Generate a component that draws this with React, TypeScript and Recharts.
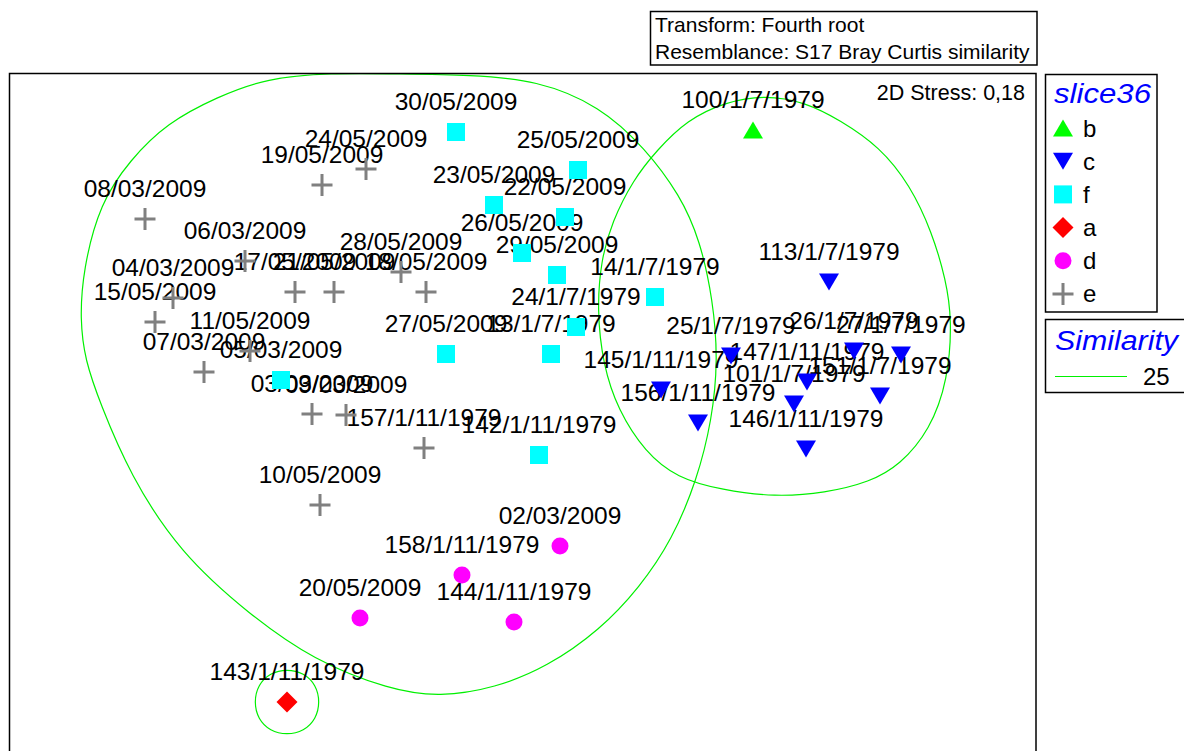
import React from "react";
import { ComposedChart, Scatter, Line, XAxis, YAxis } from "recharts";

type Pt = { name: string; x: number; y: number };
type Kind = "b" | "c" | "f" | "a" | "d" | "e";

// MDS coordinates, one array per slice36 group
const groupB: Pt[] = [{ name: "100/1/7/1979", x: 2.3, y: 2.97 }];

const groupC: Pt[] = [
  { name: "113/1/7/1979", x: 3.06, y: 1.45 },
  { name: "25/1/7/1979", x: 2.08, y: 0.71 },
  { name: "26/1/7/1979", x: 3.31, y: 0.76 },
  { name: "27/1/7/1979", x: 3.78, y: 0.72 },
  { name: "147/1/11/1979", x: 2.84, y: 0.45 },
  { name: "151/1/7/1979", x: 3.57, y: 0.31 },
  { name: "145/1/11/1979", x: 1.38, y: 0.37 },
  { name: "101/1/7/1979", x: 2.71, y: 0.23 },
  { name: "156/1/11/1979", x: 1.75, y: 0.04 },
  { name: "146/1/11/1979", x: 2.83, y: -0.22 },
];

const groupF: Pt[] = [
  { name: "30/05/2009", x: -0.67, y: 2.95 },
  { name: "25/05/2009", x: 0.55, y: 2.57 },
  { name: "23/05/2009", x: -0.29, y: 2.22 },
  { name: "22/05/2009", x: 0.42, y: 2.1 },
  { name: "26/05/2009", x: -0.01, y: 1.74 },
  { name: "29/05/2009", x: 0.34, y: 1.52 },
  { name: "14/1/7/1979", x: 1.32, y: 1.3 },
  { name: "24/1/7/1979", x: 0.53, y: 1.0 },
  { name: "27/05/2009", x: -0.77, y: 0.73 },
  { name: "13/1/7/1979", x: 0.28, y: 0.73 },
  { name: "05/03/2009", x: -2.42, y: 0.47 },
  { name: "142/1/11/1979", x: 0.16, y: -0.28 },
];

const groupA: Pt[] = [{ name: "143/1/11/1979", x: -2.36, y: -2.75 }];

const groupD: Pt[] = [
  { name: "02/03/2009", x: 0.37, y: -1.19 },
  { name: "158/1/11/1979", x: -0.61, y: -1.48 },
  { name: "20/05/2009", x: -1.63, y: -1.91 },
  { name: "144/1/11/1979", x: -0.09, y: -1.95 },
];

const groupE: Pt[] = [
  { name: "08/03/2009", x: -3.78, y: 2.08 },
  { name: "19/05/2009", x: -2.01, y: 2.42 },
  { name: "24/05/2009", x: -1.57, y: 2.58 },
  { name: "06/03/2009", x: -2.78, y: 1.66 },
  { name: "04/03/2009", x: -3.5, y: 1.29 },
  { name: "15/05/2009", x: -3.68, y: 1.05 },
  { name: "17/05/2009", x: -2.28, y: 1.35 },
  { name: "21/05/2009", x: -1.89, y: 1.35 },
  { name: "28/05/2009", x: -1.22, y: 1.55 },
  { name: "18/05/2009", x: -0.97, y: 1.35 },
  { name: "11/05/2009", x: -2.73, y: 0.76 },
  { name: "07/03/2009", x: -3.19, y: 0.55 },
  { name: "03/03/2009", x: -2.11, y: 0.13 },
  { name: "09/03/2009", x: -1.77, y: 0.12 },
  { name: "157/1/11/1979", x: -0.99, y: -0.21 },
  { name: "10/05/2009", x: -2.03, y: -0.78 },
];

// 25% similarity contours, traced around each cluster
const contourLeft = [
  { x: -1.23, y: 3.53 }, { x: -0.53, y: 3.52 }, { x: 0.14, y: 3.47 }, { x: 0.77, y: 3.21 },
  { x: 1.22, y: 2.79 }, { x: 1.57, y: 2.32 }, { x: 1.77, y: 1.87 }, { x: 1.9, y: 1.27 },
  { x: 1.95, y: 0.67 }, { x: 1.89, y: 0.07 }, { x: 1.74, y: -0.53 }, { x: 1.49, y: -1.13 },
  { x: 1.17, y: -1.6 }, { x: 0.77, y: -2.03 }, { x: 0.24, y: -2.4 }, { x: -0.28, y: -2.61 },
  { x: -0.83, y: -2.7 }, { x: -1.33, y: -2.63 }, { x: -2.1, y: -2.33 }, { x: -2.73, y: -1.88 },
  { x: -3.43, y: -1.26 }, { x: -3.93, y: -0.48 }, { x: -4.23, y: 0.24 }, { x: -4.38, y: 0.67 },
  { x: -4.43, y: 1.07 }, { x: -4.4, y: 1.57 }, { x: -4.23, y: 2.24 }, { x: -3.93, y: 2.67 },
  { x: -3.56, y: 3.04 }, { x: -3.06, y: 3.3 }, { x: -2.56, y: 3.49 }, { x: -1.93, y: 3.54 },
];

const contourRight = [
  { x: 2.42, y: 3.32 }, { x: 2.82, y: 3.25 }, { x: 3.17, y: 3.07 }, { x: 3.57, y: 2.8 },
  { x: 3.87, y: 2.42 }, { x: 4.09, y: 1.95 }, { x: 4.23, y: 1.47 }, { x: 4.29, y: 1.07 },
  { x: 4.25, y: 0.47 }, { x: 4.07, y: -0.03 }, { x: 3.77, y: -0.38 }, { x: 3.47, y: -0.55 },
  { x: 3.02, y: -0.66 }, { x: 2.52, y: -0.7 }, { x: 1.99, y: -0.63 }, { x: 1.54, y: -0.51 },
  { x: 1.22, y: -0.25 }, { x: 0.95, y: 0.17 }, { x: 0.8, y: 0.62 }, { x: 0.74, y: 1.17 },
  { x: 0.78, y: 1.67 }, { x: 0.89, y: 2.05 }, { x: 1.1, y: 2.47 }, { x: 1.34, y: 2.77 },
  { x: 1.64, y: 3.07 }, { x: 2.02, y: 3.25 },
];

const contourA = [
  { x: -2.36, y: -2.42 }, { x: -2.19, y: -2.46 }, { x: -2.07, y: -2.58 }, { x: -2.03, y: -2.75 },
  { x: -2.07, y: -2.92 }, { x: -2.19, y: -3.04 }, { x: -2.36, y: -3.08 }, { x: -2.53, y: -3.04 },
  { x: -2.65, y: -2.92 }, { x: -2.69, y: -2.75 }, { x: -2.65, y: -2.58 }, { x: -2.53, y: -2.46 },
];

const legendKeys: Kind[] = ["b", "c", "f", "a", "d", "e"];

const COLORS: Record<Kind, string> = {
  b: "#00ff00",
  c: "#0000ff",
  f: "#00ffff",
  a: "#ff0000",
  d: "#ff00ff",
  e: "#808080",
};

const FONT = "'Liberation Sans', Arial, Helvetica, sans-serif";
const CONTOUR = "#00f000";

function Glyph({ kind, cx, cy }: { kind: Kind; cx: number; cy: number }) {
  const fill = COLORS[kind];
  switch (kind) {
    case "b":
      return <polygon points={`${cx - 10},${cy + 8.5} ${cx + 10},${cy + 8.5} ${cx},${cy - 8.5}`} fill={fill} />;
    case "c":
      return <polygon points={`${cx - 10},${cy - 8.5} ${cx + 10},${cy - 8.5} ${cx},${cy + 8.5}`} fill={fill} />;
    case "f":
      return <rect x={cx - 9} y={cy - 9} width={18} height={18} fill={fill} />;
    case "a":
      return <polygon points={`${cx},${cy - 10.5} ${cx + 10.5},${cy} ${cx},${cy + 10.5} ${cx - 10.5},${cy}`} fill={fill} />;
    case "d":
      return <circle cx={cx} cy={cy} r={8.5} fill={fill} />;
    default:
      return (
        <g fill={fill}>
          <rect x={cx - 10.5} y={cy - 1.5} width={21} height={3} />
          <rect x={cx - 1.5} y={cy - 11} width={3} height={22} />
        </g>
      );
  }
}

const groups: { kind: Kind; data: Pt[] }[] = [
  { kind: "e", data: groupE },
  { kind: "f", data: groupF },
  { kind: "d", data: groupD },
  { kind: "a", data: groupA },
  { kind: "c", data: groupC },
  { kind: "b", data: groupB },
];

const allPoints = [...groupB, ...groupC, ...groupF, ...groupA, ...groupD, ...groupE];

const labelShape = (p: any) => (
  <text x={p.cx} y={p.cy - 22} textAnchor="middle" fontSize={24.5} fontFamily={FONT} fill="#000">
    {p.payload.name}
  </text>
);

export default function App() {
  return (
    <div style={{ position: "absolute", left: 0, top: 0, width: 1184, height: 751, overflow: "hidden", background: "#fff" }}>
      <ComposedChart width={1184} height={790} margin={{ top: 74, left: 10, right: 148, bottom: 10 }}>
        <XAxis type="number" dataKey="x" domain={[-5.13, 5.13]} allowDataOverflow hide />
        <YAxis type="number" dataKey="y" domain={[-3.53, 3.53]} allowDataOverflow hide />
        <Scatter data={allPoints} shape={labelShape} isAnimationActive={false} />
        {groups.map((g) => (
          <Scatter
            key={g.kind}
            data={g.data}
            shape={(p: any) => <Glyph kind={g.kind} cx={p.cx} cy={p.cy} />}
            isAnimationActive={false}
          />
        ))}
        <Line data={contourLeft} dataKey="y" type="basisClosed" stroke={CONTOUR} strokeWidth={1.2} dot={false} activeDot={false} isAnimationActive={false} />
        <Line data={contourRight} dataKey="y" type="basisClosed" stroke={CONTOUR} strokeWidth={1.2} dot={false} activeDot={false} isAnimationActive={false} />
        <Line data={contourA} dataKey="y" type="basisClosed" stroke={CONTOUR} strokeWidth={1.2} dot={false} activeDot={false} isAnimationActive={false} />
      </ComposedChart>

      <svg width={1184} height={751} style={{ position: "absolute", left: 0, top: 0, pointerEvents: "none" }} fontFamily={FONT}>
        {/* plot frame */}
        <rect x={9.5} y={73.5} width={1026.5} height={720} fill="none" stroke="#000" strokeWidth={1.5} />
        <text x={1025} y={100} textAnchor="end" fontSize={21.5} fill="#000">2D Stress: 0,18</text>

        {/* header box */}
        <rect x={650.5} y={11.5} width={386.5} height={53.5} fill="none" stroke="#000" strokeWidth={1.5} />
        <text x={655} y={32} fontSize={21} fill="#000">Transform: Fourth root</text>
        <text x={655} y={59} fontSize={21} fill="#000">Resemblance: S17 Bray Curtis similarity</text>

        {/* group legend */}
        <rect x={1045.5} y={74.5} width={111.5} height={237.5} fill="none" stroke="#000" strokeWidth={1.5} />
        <text x={1054} y={103} fontSize={27} fontStyle="italic" fill="#0000ff" textLength={97} lengthAdjust="spacingAndGlyphs">slice36</text>
        {legendKeys.map((k, i) => (
          <g key={k}>
            <Glyph kind={k} cx={1063} cy={128 + i * 33.2} />
            <text x={1083} y={137 + i * 33} fontSize={24} fill="#000">{k}</text>
          </g>
        ))}

        {/* similarity legend */}
        <rect x={1045.5} y={319.5} width={150} height={73} fill="none" stroke="#000" strokeWidth={1.5} />
        <text x={1055} y={350} fontSize={27} fontStyle="italic" fill="#0000ff" textLength={123} lengthAdjust="spacingAndGlyphs">Similarity</text>
        <line x1={1055} y1={376.5} x2={1127} y2={376.5} stroke={CONTOUR} strokeWidth={1.2} />
        <text x={1143} y={385} fontSize={24} fill="#000">25</text>
      </svg>
    </div>
  );
}
